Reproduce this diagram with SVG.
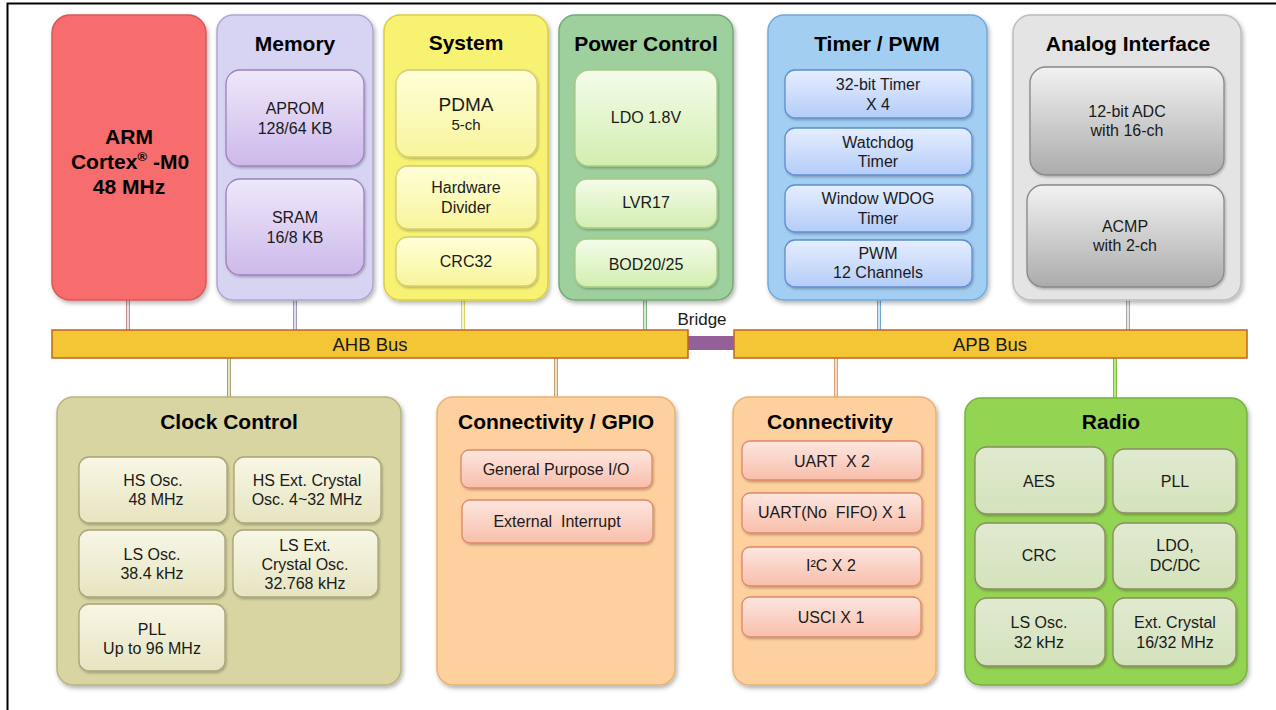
<svg xmlns="http://www.w3.org/2000/svg" width="1276" height="710" viewBox="0 0 1276 710">
<defs>
<filter id="sh" x="-10%" y="-10%" width="125%" height="125%"><feDropShadow dx="1.5" dy="2.5" stdDeviation="2" flood-color="#000" flood-opacity="0.3"/></filter>
<filter id="shs" x="-10%" y="-10%" width="125%" height="130%"><feDropShadow dx="1" dy="1.5" stdDeviation="1.2" flood-color="#000" flood-opacity="0.25"/></filter>
<linearGradient id="gMem" x1="0" y1="0" x2="0" y2="1"><stop offset="0" stop-color="#EEE8FA"/><stop offset="1" stop-color="#CDB9EA"/></linearGradient>
<linearGradient id="gSys" x1="0" y1="0" x2="0" y2="1"><stop offset="0" stop-color="#FFFFD8"/><stop offset="1" stop-color="#F8F59C"/></linearGradient>
<linearGradient id="gPow" x1="0" y1="0" x2="0" y2="1"><stop offset="0" stop-color="#F4FCEA"/><stop offset="1" stop-color="#D2EEB0"/></linearGradient>
<linearGradient id="gTim" x1="0" y1="0" x2="0" y2="1"><stop offset="0" stop-color="#E6EEFF"/><stop offset="1" stop-color="#B4CCF8"/></linearGradient>
<linearGradient id="gAna" x1="0" y1="0" x2="0" y2="1"><stop offset="0" stop-color="#F2F2F2"/><stop offset="1" stop-color="#ABABAB"/></linearGradient>
<linearGradient id="gClk" x1="0" y1="0" x2="0" y2="1"><stop offset="0" stop-color="#F8F7E6"/><stop offset="1" stop-color="#E6E4C0"/></linearGradient>
<linearGradient id="gCon" x1="0" y1="0" x2="0" y2="1"><stop offset="0" stop-color="#FDE6E0"/><stop offset="1" stop-color="#F8BEAA"/></linearGradient>
<linearGradient id="gRad" x1="0" y1="0" x2="0" y2="1"><stop offset="0" stop-color="#E0EAD0"/><stop offset="1" stop-color="#D4E2BC"/></linearGradient>
</defs>
<style>
text{font-family:"Liberation Sans",Arial,sans-serif;fill:#1a1a1a;text-anchor:middle}
.t{font-size:21px;font-weight:bold;fill:#000}
.s{font-size:16px}
.outer{filter:url(#sh);stroke-width:1.5}
.in{filter:url(#shs);stroke-width:1.3}
.bus{fill:#F4C534;stroke:#C0641E;stroke-width:1.5}
</style>
<rect width="1276" height="710" fill="#fff"/>
<path d="M7.5 710 V3.5 H1276" fill="none" stroke="#000" stroke-width="2"/>

<g id="connectors">
<g stroke-width="4">
<line x1="128" y1="300" x2="128" y2="331" stroke="#C89090"/>
<line x1="295" y1="300" x2="295" y2="331" stroke="#9C98C0"/>
<line x1="463" y1="300" x2="463" y2="331" stroke="#D8D060"/>
<line x1="645" y1="300" x2="645" y2="331" stroke="#80B880"/>
<line x1="879" y1="300" x2="879" y2="331" stroke="#70A8D8"/>
<line x1="1128" y1="300" x2="1128" y2="331" stroke="#A8A8A8"/>
<line x1="229" y1="357" x2="229" y2="398" stroke="#A8A470"/>
<line x1="556" y1="357" x2="556" y2="398" stroke="#C8A070"/>
<line x1="836" y1="357" x2="836" y2="398" stroke="#D8A070"/>
<line x1="1115" y1="357" x2="1115" y2="399" stroke="#7CC040"/>
</g>
<g stroke-width="1.6">
<line x1="128" y1="300" x2="128" y2="331" stroke="#F8EEEE"/>
<line x1="295" y1="300" x2="295" y2="331" stroke="#F0F0FA"/>
<line x1="463" y1="300" x2="463" y2="331" stroke="#FFFFE0"/>
<line x1="645" y1="300" x2="645" y2="331" stroke="#E8F8E8"/>
<line x1="879" y1="300" x2="879" y2="331" stroke="#E8F4FF"/>
<line x1="1128" y1="300" x2="1128" y2="331" stroke="#F4F4F4"/>
<line x1="229" y1="357" x2="229" y2="398" stroke="#F4F4E0"/>
<line x1="556" y1="357" x2="556" y2="398" stroke="#FCEEDC"/>
<line x1="836" y1="357" x2="836" y2="398" stroke="#FCEEDC"/>
<line x1="1115" y1="357" x2="1115" y2="399" stroke="#C8F090"/>
</g>
<rect x="686" y="336" width="50" height="14" fill="#94609A"/>
</g>

<g id="ahb-bus"><rect class="bus" x="52" y="330" width="636" height="28"/><text x="370" y="350.5" style="font-size:18.5px">AHB Bus</text></g>
<g id="apb-bus"><rect class="bus" x="734" y="330" width="513" height="28"/><text x="990" y="350.5" style="font-size:18.5px">APB Bus</text></g>
<g id="bridge"><text x="702" y="325" style="font-size:17px">Bridge</text></g>

<g id="arm">
<rect class="outer" x="52" y="15" width="154" height="285" rx="18" fill="#F76C6C" stroke="#D85858"/>
<text class="t" x="129" y="144">ARM</text>
<text class="t" x="130" y="169">Cortex<tspan style="font-size:13px" dy="-8">®</tspan><tspan dy="8"> -M0</tspan></text>
<text class="t" x="129" y="194">48 MHz</text>
</g>

<g id="memory">
<rect class="outer" x="217" y="15" width="156" height="285" rx="16" fill="#D6D4F2" stroke="#ABA8D0"/>
<text class="t" x="295" y="51">Memory</text>
<rect class="in" x="226" y="70" width="138" height="96" rx="14" fill="url(#gMem)" stroke="#9C82BC"/>
<text class="s" x="295" y="114">APROM</text><text class="s" x="295" y="134">128/64 KB</text>
<rect class="in" x="226" y="179" width="138" height="96" rx="14" fill="url(#gMem)" stroke="#9C82BC"/>
<text class="s" x="295" y="223">SRAM</text><text class="s" x="295" y="243">16/8 KB</text>
</g>

<g id="system">
<rect class="outer" x="384" y="15" width="164" height="285" rx="16" fill="#F8F272" stroke="#D8D040"/>
<text class="t" x="466" y="50">System</text>
<rect class="in" x="396" y="70" width="141" height="87" rx="14" fill="url(#gSys)" stroke="#D4CC70"/>
<text x="466" y="111" style="font-size:19px">PDMA</text><text class="s" x="466" y="130" style="font-size:15px">5-ch</text>
<rect class="in" x="396" y="166" width="141" height="63" rx="12" fill="url(#gSys)" stroke="#D4CC70"/>
<text class="s" x="466" y="193">Hardware</text><text class="s" x="466" y="213">Divider</text>
<rect class="in" x="396" y="237" width="141" height="49" rx="12" fill="url(#gSys)" stroke="#D4CC70"/>
<text class="s" x="466" y="267">CRC32</text>
</g>

<g id="power">
<rect class="outer" x="559" y="15" width="174" height="285" rx="16" fill="#9ED09E" stroke="#72AA72"/>
<text class="t" x="646" y="51">Power Control</text>
<rect class="in" x="575" y="70" width="142" height="96" rx="14" fill="url(#gPow)" stroke="#A8CC80"/>
<text class="s" x="646" y="123">LDO 1.8V</text>
<rect class="in" x="575" y="179" width="142" height="49" rx="12" fill="url(#gPow)" stroke="#A8CC80"/>
<text class="s" x="646" y="208">LVR17</text>
<rect class="in" x="575" y="239" width="142" height="48" rx="12" fill="url(#gPow)" stroke="#A8CC80"/>
<text class="s" x="646" y="270">BOD20/25</text>
</g>

<g id="timer">
<rect class="outer" x="768" y="15" width="219" height="285" rx="16" fill="#A2CEF2" stroke="#72AAD8"/>
<text class="t" x="877" y="51">Timer / PWM</text>
<rect class="in" x="785" y="70" width="187" height="48" rx="10" fill="url(#gTim)" stroke="#5E8ED0"/>
<text class="s" x="878" y="90">32-bit Timer</text><text class="s" x="878" y="110">X 4</text>
<rect class="in" x="785" y="128" width="187" height="47" rx="10" fill="url(#gTim)" stroke="#5E8ED0"/>
<text class="s" x="878" y="148">Watchdog</text><text class="s" x="878" y="167">Timer</text>
<rect class="in" x="785" y="185" width="187" height="47" rx="10" fill="url(#gTim)" stroke="#5E8ED0"/>
<text class="s" x="878" y="204">Window WDOG</text><text class="s" x="878" y="224">Timer</text>
<rect class="in" x="785" y="240" width="187" height="47" rx="10" fill="url(#gTim)" stroke="#5E8ED0"/>
<text class="s" x="878" y="259">PWM</text><text class="s" x="878" y="278">12 Channels</text>
</g>

<g id="analog">
<rect class="outer" x="1013" y="15" width="228" height="285" rx="18" fill="#E4E4E4" stroke="#BDBDBD"/>
<text class="t" x="1128" y="51">Analog Interface</text>
<rect class="in" x="1030" y="67" width="194" height="108" rx="16" fill="url(#gAna)" stroke="#888"/>
<text class="s" x="1127" y="117">12-bit ADC</text><text class="s" x="1127" y="136">with 16-ch</text>
<rect class="in" x="1027" y="185" width="197" height="102" rx="16" fill="url(#gAna)" stroke="#888"/>
<text class="s" x="1125" y="232">ACMP</text><text class="s" x="1125" y="251">with 2-ch</text>
</g>

<g id="clock">
<rect class="outer" x="57" y="397" width="344" height="288" rx="16" fill="#D8D5A2" stroke="#B8B47E"/>
<text class="t" x="229" y="429">Clock Control</text>
<rect class="in" x="79" y="457" width="148" height="66" rx="10" fill="url(#gClk)" stroke="#A8A478"/>
<text class="s" x="153" y="486">HS Osc.</text><text class="s" x="156" y="505">48 MHz</text>
<rect class="in" x="234" y="457" width="147" height="66" rx="10" fill="url(#gClk)" stroke="#A8A478"/>
<text class="s" x="307" y="486">HS Ext. Crystal</text><text class="s" x="307" y="505">Osc. 4~32 MHz</text>
<rect class="in" x="79" y="530" width="146" height="67" rx="10" fill="url(#gClk)" stroke="#A8A478"/>
<text class="s" x="152" y="560">LS Osc.</text><text class="s" x="152" y="579">38.4 kHz</text>
<rect class="in" x="233" y="530" width="145" height="67" rx="10" fill="url(#gClk)" stroke="#A8A478"/>
<text class="s" x="305" y="551">LS Ext.</text><text class="s" x="305" y="570">Crystal Osc.</text><text class="s" x="305" y="589">32.768 kHz</text>
<rect class="in" x="79" y="604" width="146" height="67" rx="10" fill="url(#gClk)" stroke="#A8A478"/>
<text class="s" x="152" y="635">PLL</text><text class="s" x="152" y="654">Up to 96 MHz</text>
</g>

<g id="conn-gpio">
<rect class="outer" x="437" y="397" width="238" height="288" rx="16" fill="#FDD09E" stroke="#E8B272"/>
<text class="t" x="556" y="429">Connectivity / GPIO</text>
<rect class="in" x="461" y="450" width="191" height="38" rx="8" fill="url(#gCon)" stroke="#E08866"/>
<text class="s" x="556" y="475">General Purpose I/O</text>
<rect class="in" x="462" y="500" width="191" height="43" rx="8" fill="url(#gCon)" stroke="#E08866"/>
<text class="s" x="557" y="527" xml:space="preserve">External  Interrupt</text>
</g>

<g id="connectivity">
<rect class="outer" x="733" y="397" width="203" height="288" rx="16" fill="#FDD09E" stroke="#E8B272"/>
<text class="t" x="830" y="429">Connectivity</text>
<rect class="in" x="742" y="441" width="180" height="39" rx="8" fill="url(#gCon)" stroke="#E08866"/>
<text class="s" x="832" y="467" xml:space="preserve">UART  X 2</text>
<rect class="in" x="742" y="493" width="180" height="40" rx="8" fill="url(#gCon)" stroke="#E08866"/>
<text class="s" x="832" y="518" xml:space="preserve">UART(No  FIFO) X 1</text>
<rect class="in" x="742" y="547" width="179" height="39" rx="8" fill="url(#gCon)" stroke="#E08866"/>
<text class="s" x="831" y="571">I²C X 2</text>
<rect class="in" x="742" y="597" width="179" height="40" rx="8" fill="url(#gCon)" stroke="#E08866"/>
<text class="s" x="831" y="623">USCI X 1</text>
</g>

<g id="radio">
<rect class="outer" x="965" y="398" width="282" height="287" rx="16" fill="#94D452" stroke="#78B040"/>
<text class="t" x="1111" y="429">Radio</text>
<rect class="in" x="975" y="447" width="130" height="67" rx="12" fill="url(#gRad)" stroke="#8C8C60"/>
<text class="s" x="1039" y="487">AES</text>
<rect class="in" x="1113" y="449" width="123" height="64" rx="12" fill="url(#gRad)" stroke="#8C8C60"/>
<text class="s" x="1175" y="487">PLL</text>
<rect class="in" x="975" y="523" width="130" height="66" rx="12" fill="url(#gRad)" stroke="#8C8C60"/>
<text class="s" x="1039" y="561">CRC</text>
<rect class="in" x="1113" y="523" width="123" height="66" rx="12" fill="url(#gRad)" stroke="#8C8C60"/>
<text class="s" x="1175" y="551">LDO,</text><text class="s" x="1175" y="571">DC/DC</text>
<rect class="in" x="975" y="598" width="130" height="68" rx="12" fill="url(#gRad)" stroke="#8C8C60"/>
<text class="s" x="1039" y="628">LS Osc.</text><text class="s" x="1039" y="648">32 kHz</text>
<rect class="in" x="1113" y="598" width="123" height="68" rx="12" fill="url(#gRad)" stroke="#8C8C60"/>
<text class="s" x="1175" y="628">Ext. Crystal</text><text class="s" x="1175" y="648">16/32 MHz</text>
</g>
</svg>
